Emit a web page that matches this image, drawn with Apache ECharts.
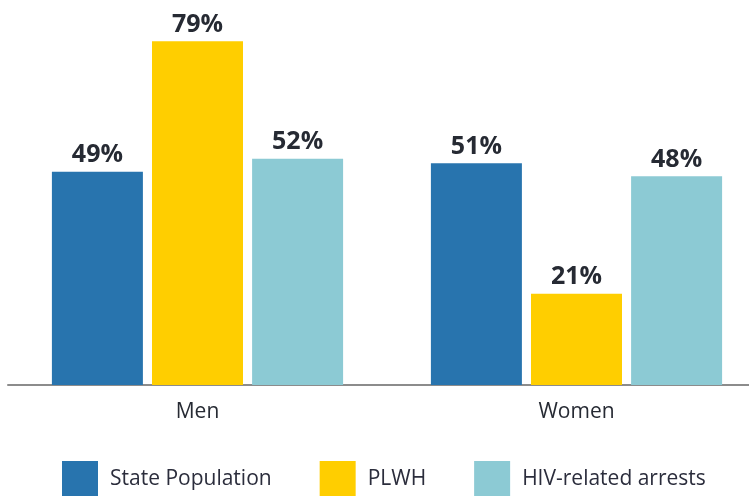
<!DOCTYPE html>
<html>
<head>
<meta charset="utf-8">
<script src="https://cdn.jsdelivr.net/npm/echarts@6/dist/echarts.min.js"></script>
<style>
  html, body { margin: 0; padding: 0; background: #fff; }
  #chart { width: 749px; height: 496px; }
</style>
</head>
<body>
<div id="chart"></div>
<script>
const categories = ['Men', 'Women']
const seriesNames = ['State Population', 'PLWH', 'HIV-related arrests']
const statePopulation = [49, 51]
const plwh = [79, 21]
const hivArrests = [52, 48]
const colors = ['#2874ae', '#ffce00', '#8ccad4']

const chart = echarts.init(document.getElementById('chart'))

// one bar series per group
const makeSeries = (name, data, color) => ({
  name,
  type: 'bar',
  data,
  barWidth: 91,
  barGap: '10%',
  itemStyle: { color },
  label: {
    show: true,
    position: 'top',
    distance: 4,
    formatter: '{c}%',
    color: '#262a33',
    fontSize: 25,
    fontWeight: 'bold',
    fontFamily: 'Open Sans'
  }
})

chart.setOption({
  animation: false,
  // grid runs a bit past the right edge, like the original
  grid: { left: 8, width: 758, top: 37, bottom: 111, outerBoundsMode: 'none' },
  legend: {
    data: seriesNames,
    left: 62,
    top: 461,
    padding: 0,
    itemWidth: 36,
    itemHeight: 36,
    itemGap: 48,
    icon: 'rect',
    textStyle: {
      color: '#2b2d3c',
      fontSize: 21,
      fontFamily: 'Open Sans',
      padding: [0, 0, 0, 7]
    }
  },
  xAxis: {
    type: 'category',
    data: categories,
    axisLine: { lineStyle: { color: '#8c8c8c', width: 2 } },
    axisTick: { show: false },
    axisLabel: {
      color: '#262a33',
      fontSize: 21,
      fontFamily: 'Open Sans',
      margin: 17
    }
  },
  yAxis: {
    type: 'value',
    min: 0,
    max: 80,
    show: false,
    splitLine: { show: false }
  },
  series: [
    makeSeries(seriesNames[0], statePopulation, colors[0]),
    makeSeries(seriesNames[1], plwh, colors[1]),
    makeSeries(seriesNames[2], hivArrests, colors[2])
  ]
})
</script>
</body>
</html>
